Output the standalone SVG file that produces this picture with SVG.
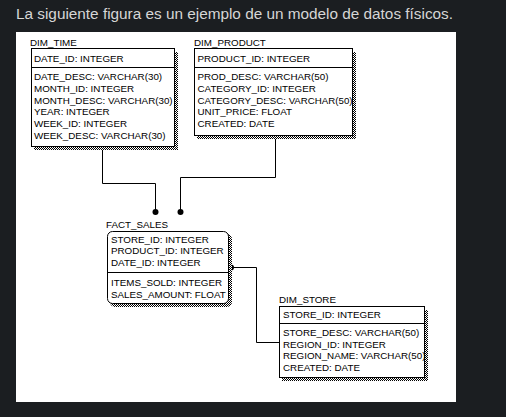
<svg xmlns="http://www.w3.org/2000/svg" width="506" height="417" viewBox="0 0 506 417">
<defs>
<pattern id="dither" patternUnits="userSpaceOnUse" width="2" height="2">
<rect width="2" height="2" fill="#fff"/>
<rect width="1" height="1" fill="#000"/>
<rect x="1" y="1" width="1" height="1" fill="#000"/>
</pattern>
</defs>
<style>
.title{font-family:"Liberation Sans",Arial,sans-serif;font-size:15.3px;fill:#d6d6d6}
.t{font-family:"Liberation Sans",Arial,sans-serif;font-size:9.8px;fill:#000}
.box{fill:#fff;stroke:#000;stroke-width:1}
.sep{stroke:#000;stroke-width:1;fill:none}
.sh{fill:url(#dither)}
.conn{fill:none;stroke:#000;stroke-width:1}
.dot{fill:#000}
</style>
<rect width="506" height="417" fill="#1b1e21"/>
<text class="title" x="16" y="19" textLength="437" lengthAdjust="spacingAndGlyphs">La siguiente figura es un ejemplo de un modelo de datos físicos.</text>
<rect x="16" y="32" width="440" height="370" fill="#fff"/>

<g id="connectors">
<path class="conn" d="M102.5 147V183.5H155.5V212"/>
<circle class="dot" cx="155.5" cy="212" r="3"/>
<path class="conn" d="M275.5 136V177.5H180.5V212"/>
<circle class="dot" cx="180.5" cy="212" r="3"/>
<path class="conn" d="M231 267.5H256.5V342.5H279"/>
<circle class="dot" cx="231" cy="267.5" r="3"/>
</g>

<g id="dim_time">
<text class="t" x="30" y="46">DIM_TIME</text>
<rect class="sh" x="175" y="52" width="3" height="98"/>
<rect class="sh" x="34" y="147" width="144" height="3"/>
<rect class="box" x="31.5" y="48.5" width="143" height="98"/>
<line class="sep" x1="31.5" y1="67.5" x2="174.5" y2="67.5"/>
<text class="t" x="34" y="62">DATE_ID: INTEGER</text>
<text class="t" x="34" y="80.3">DATE_DESC: VARCHAR(30)</text>
<text class="t" x="34" y="92">MONTH_ID: INTEGER</text>
<text class="t" x="34" y="103.7">MONTH_DESC: VARCHAR(30)</text>
<text class="t" x="34" y="115.3">YEAR: INTEGER</text>
<text class="t" x="34" y="127">WEEK_ID: INTEGER</text>
<text class="t" x="34" y="138.7">WEEK_DESC: VARCHAR(30)</text>
</g>

<g id="dim_product">
<text class="t" x="194" y="46">DIM_PRODUCT</text>
<rect class="sh" x="353" y="52" width="3" height="87"/>
<rect class="sh" x="197" y="136" width="159" height="3"/>
<rect class="box" x="194.5" y="48.5" width="158" height="87"/>
<line class="sep" x1="194.5" y1="67.5" x2="352.5" y2="67.5"/>
<text class="t" x="197.5" y="62">PRODUCT_ID: INTEGER</text>
<text class="t" x="197.5" y="80.3">PROD_DESC: VARCHAR(50)</text>
<text class="t" x="197.5" y="92">CATEGORY_ID: INTEGER</text>
<text class="t" x="197.5" y="103.7" textLength="155" lengthAdjust="spacingAndGlyphs">CATEGORY_DESC: VARCHAR(50)</text>
<text class="t" x="197.5" y="115.3">UNIT_PRICE: FLOAT</text>
<text class="t" x="197.5" y="127">CREATED: DATE</text>
</g>

<g id="fact_sales">
<text class="t" x="106" y="227.5">FACT_SALES</text>
<rect class="sh" x="110" y="234" width="122" height="73" rx="5"/>
<rect class="box" x="107.5" y="231.5" width="121" height="72" rx="5"/>
<line class="sep" x1="107.5" y1="272.5" x2="228.5" y2="272.5"/>
<text class="t" x="111" y="242.5">STORE_ID: INTEGER</text>
<text class="t" x="111" y="254">PRODUCT_ID: INTEGER</text>
<text class="t" x="111" y="265.5">DATE_ID: INTEGER</text>
<text class="t" x="111" y="286">ITEMS_SOLD: INTEGER</text>
<text class="t" x="111" y="297.5">SALES_AMOUNT: FLOAT</text>
</g>

<g id="dim_store">
<text class="t" x="279" y="303.3">DIM_STORE</text>
<rect class="sh" x="425" y="310" width="3" height="71"/>
<rect class="sh" x="282" y="378" width="146" height="3"/>
<rect class="box" x="279.5" y="306.5" width="145" height="71"/>
<line class="sep" x1="279.5" y1="323.5" x2="424.5" y2="323.5"/>
<text class="t" x="283" y="318.3">STORE_ID: INTEGER</text>
<text class="t" x="283" y="336">STORE_DESC: VARCHAR(50)</text>
<text class="t" x="283" y="347.7">REGION_ID: INTEGER</text>
<text class="t" x="283" y="359.3">REGION_NAME: VARCHAR(50)</text>
<text class="t" x="283" y="370.7">CREATED: DATE</text>
</g>
</svg>
